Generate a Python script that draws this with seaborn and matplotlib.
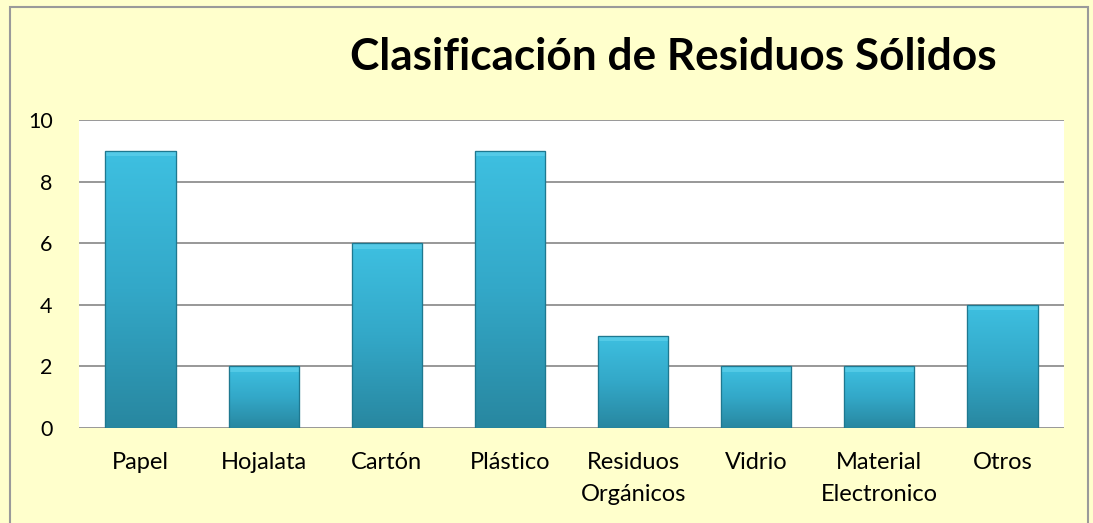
import numpy as np
import pandas as pd
import matplotlib
matplotlib.use("Agg")
import matplotlib.pyplot as plt
import matplotlib.patches as mpatches
from matplotlib.colors import LinearSegmentedColormap
import seaborn as sns

categories = ["Papel", "Hojalata", "Cartón", "Plástico", "Residuos\nOrgánicos",
              "Vidrio", "Material\nElectronico", "Otros"]
values = [9, 2, 6, 9, 3, 2, 2, 4]
yticks = [0, 2, 4, 6, 8, 10]
title = "Clasificación de Residuos Sólidos"

sns.set_theme(style="white")
plt.rcParams['font.family'] = ['Lato', 'DejaVu Sans']

bg = "#FFFFCC"
fig = plt.figure(figsize=(10.93, 5.23), dpi=100, facecolor=bg)
ax = fig.add_axes([79/1093, 1-428/523, (1064-79)/1093, (428-120)/523])
ax.set_facecolor("white")

df = pd.DataFrame({"cat": categories, "val": values})
sns.barplot(data=df, x="cat", y="val", color="#34AECF", width=0.57,
            edgecolor="#1E7890", linewidth=0.8, ax=ax, zorder=3, saturation=1)

ax.set_ylim(0, 10)
ax.set_xlim(-0.5, len(categories) - 0.5)
ax.set_yticks(yticks)
ax.yaxis.grid(True, color="#868686", linewidth=1.2, zorder=0)
ax.xaxis.grid(False)
for s in ax.spines.values():
    s.set_visible(False)
ax.tick_params(axis="both", length=0)
ax.tick_params(axis="y", pad=19, labelsize=15.5, labelcolor="black")
ax.tick_params(axis="x", pad=17, labelsize=17, labelcolor="black")
ax.set_xlabel("")
ax.set_ylabel("")
for lbl in ax.get_xticklabels():
    lbl.set_linespacing(1.65)
    lbl.set_verticalalignment("top")

# gradient overlay within each bar
cmap = LinearSegmentedColormap.from_list("g", ["#2887A0", "#33A8C8", "#3EC0E1"])
grad = np.linspace(0, 1, 256).reshape(-1, 1)
for p in list(ax.patches):
    x0, y0 = p.get_x(), p.get_y()
    w, h = p.get_width(), p.get_height()
    im = ax.imshow(grad, extent=[x0, x0 + w, y0, y0 + h], origin="lower",
                   cmap=cmap, aspect="auto", zorder=3.5)
    im.set_clip_path(p)
    bev = mpatches.Rectangle((x0, y0 + h - 0.18), w, 0.18, facecolor="#5ED0EA",
                             edgecolor="none", zorder=3.6, alpha=0.7)
    ax.add_patch(bev)
    bev.set_clip_path(p)
    outline = mpatches.Rectangle((x0, y0), w, h, facecolor="none",
                                 edgecolor="#1E7890", linewidth=0.9, zorder=3.7)
    ax.add_patch(outline)
ax.set_xlim(-0.5, len(categories) - 0.5)
ax.set_ylim(0, 10)

border = mpatches.Rectangle((10/1093, -0.05), (1088-10)/1093, 1-7/523+0.05,
                            transform=fig.transFigure, facecolor="none",
                            edgecolor="#9A9A9A", linewidth=1.5, clip_on=False)
fig.patches.append(border)

fig.text(673.5/1093, 1-70/523, title, ha="center", va="baseline",
         fontsize=31.8, fontweight="bold", color="black")

fig.savefig("out.png", dpi=100, facecolor=bg)
